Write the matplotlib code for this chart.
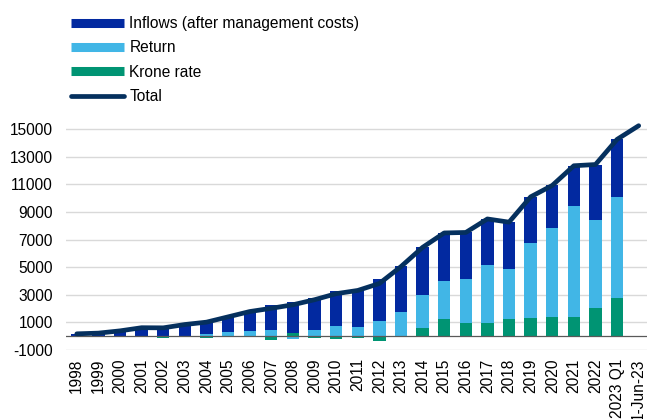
import numpy as np
import matplotlib
matplotlib.use("Agg")
import matplotlib.pyplot as plt
from matplotlib.lines import Line2D

plt.rcParams['font.family'] = ['Liberation Sans', 'DejaVu Sans']

categories = ['1998', '1999', '2000', '2001', '2002', '2003', '2004', '2005', '2006',
              '2007', '2008', '2009', '2010', '2011', '2012', '2013', '2014', '2015',
              '2016', '2017', '2018', '2019', '2020', '2021', '2022', '2023 Q1', '1-Jun-23']

krone_rate = [0, 5, 15, 20, -100, -20, -100, -50, -70, -240, 240, -120, -190, -120,
              -340, -50, 580, 1260, 970, 990, 1230, 1300, 1380, 1380, 2030, 2780, np.nan]
returns = [0, 15, 20, 10, -30, -70, 190, 270, 410, 480, -170, 460, 720, 650,
           1090, 1760, 2400, 2730, 3160, 4180, 3670, 5440, 6470, 8040, 6380, 7270, np.nan]
inflows = [171, 202, 351, 584, 734, 935, 926, 1179, 1444, 1779, 2205, 2300, 2547, 2782,
           3066, 3328, 3451, 3485, 3380, 3318, 3356, 3348, 3064, 2920, 4019, 4200, np.nan]
total = [171, 222, 386, 614, 604, 845, 1016, 1399, 1784, 2019, 2275, 2640, 3077, 3312,
         3816, 5038, 6431, 7475, 7510, 8488, 8256, 10088, 10914, 12340, 12429, 14250, 15240]

yticks = list(range(-1000, 15001, 2000))

c_inflow = '#0229A0'
c_return = '#41B6E6'
c_krone = '#009473'
c_total = '#05305E'

fig = plt.figure(figsize=(6.47, 4.19), dpi=100)
W, H = 647, 419
x0, x1 = 66, 649.5
ybot, ytop = 350, 115.2
ax = fig.add_axes([x0 / W, (H - ybot) / H, (x1 - x0) / W, (ybot - ytop) / H])

x = np.arange(len(categories))
pos_base = np.zeros(len(categories))
neg_base = np.zeros(len(categories))
bw = 0.57
for vals, col in [(krone_rate, c_krone), (returns, c_return), (inflows, c_inflow)]:
    v = np.array(vals, dtype=float)
    vv = np.nan_to_num(v)
    bottoms = np.where(vv >= 0, pos_base, neg_base)
    mask = ~np.isnan(v)
    ax.bar(x[mask], vv[mask], bottom=bottoms[mask], width=bw, color=col, zorder=2, linewidth=0)
    pos_base = pos_base + np.where(vv > 0, vv, 0)
    neg_base = neg_base + np.where(vv < 0, vv, 0)

ax.plot(x, total, color=c_total, lw=3.4, solid_capstyle='round', solid_joinstyle='round', zorder=4)
ax.axhline(0, color='#595959', lw=0.9, zorder=3)

ax.set_xlim(-0.5, 26.5)
ax.set_ylim(-1000, 16000)
ax.set_yticks(yticks)
ax.set_yticklabels([str(t) for t in yticks])
ax.yaxis.grid(True, color='#D9D9D9', lw=1.0, zorder=0)
ax.set_axisbelow(True)
ax.set_xticks(x)
ax.set_xticklabels(categories, rotation=90)
ax.tick_params(axis='both', length=0, labelsize=11.2, colors='black')
ax.tick_params(axis='y', pad=9.5)
ax.tick_params(axis='x', pad=6)
for s in ax.spines.values():
    s.set_visible(False)

handles = [
    Line2D([], [], color=c_inflow, lw=6.5, solid_capstyle='butt'),
    Line2D([], [], color=c_return, lw=6.5, solid_capstyle='butt'),
    Line2D([], [], color=c_krone, lw=6.5, solid_capstyle='butt'),
    Line2D([], [], color=c_total, lw=3.4, solid_capstyle='round'),
]
labels = ['Inflows (after management costs)', 'Return', 'Krone rate', 'Total']
fig.legend(handles, labels, loc='upper left', bbox_to_anchor=(71 / W, 1 - 16 / H),
           frameon=False, fontsize=11.2, handlelength=3.4, handletextpad=0.35,
           labelspacing=0.6, borderaxespad=0, borderpad=0)

fig.savefig('out.png', dpi=100)
